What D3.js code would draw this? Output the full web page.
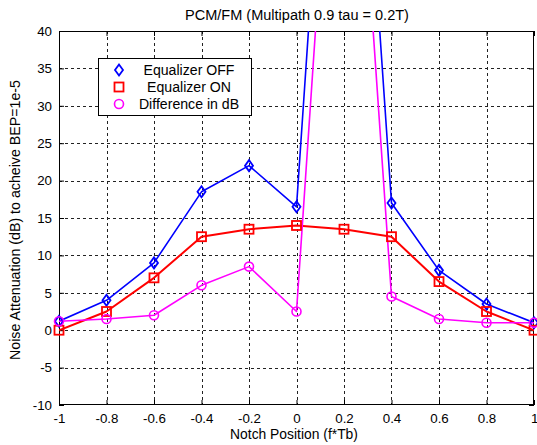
<!DOCTYPE html>
<html><head><meta charset="utf-8">
<script src="https://cdn.jsdelivr.net/npm/d3@7"></script>
<style>body{margin:0;background:#fff}svg{display:block}text{font-family:"Liberation Sans",Arial,sans-serif;fill:#000}</style>
</head><body><svg id="c" width="537" height="445"></svg>
<script>
const xs = [-1, -0.8, -0.6, -0.4, -0.2, 0, 0.2, 0.4, 0.6, 0.8, 1];
const eqOff = [1.2, 4, 9, 18.5, 22, 16.5, 110, 17, 8, 3.5, 1];
const eqOn = [0, 2.5, 7, 12.5, 13.5, 14, 13.5, 12.5, 6.5, 2.5, 0];
const diffDb = [1.2, 1.5, 2, 6, 8.5, 2.5, 96.5, 4.5, 1.5, 1, 1];
const xTicks = [-1, -0.8, -0.6, -0.4, -0.2, 0, 0.2, 0.4, 0.6, 0.8, 1];
const yTicks = [-10, -5, 0, 5, 10, 15, 20, 25, 30, 35, 40];
const seriesNames = ["Equalizer OFF", "Equalizer ON", "Difference in dB"];

const svg = d3.select("#c");
const L = 59, R = 534, T = 31, B = 405;
const x = d3.scaleLinear().domain([-1, 1]).range([L, R]);
const y = d3.scaleLinear().domain([-10, 40]).range([B, T]);

// scale a text's font so it spans the given width
function fit(sel, w) {
  sel.style("font-size", "12px");
  const len = sel.node().getComputedTextLength();
  sel.style("font-size", (12 * w / len).toFixed(2) + "px");
  return 12 * w / len;
}

svg.append("rect").attr("x", 0).attr("y", 0).attr("width", 537).attr("height", 445).attr("fill", "#fff");

// grid
const g = svg.append("g");
g.selectAll(".gx").data(xTicks.slice(1, -1)).enter().append("line")
  .attr("x1", d => Math.round(x(d)) + 0.5).attr("x2", d => Math.round(x(d)) + 0.5)
  .attr("y1", T).attr("y2", B).attr("stroke", "#222").attr("stroke-dasharray", "3,3");
g.selectAll(".gy").data(yTicks.slice(1, -1)).enter().append("line")
  .attr("y1", d => Math.round(y(d)) + 0.5).attr("y2", d => Math.round(y(d)) + 0.5)
  .attr("x1", L).attr("x2", R).attr("stroke", "#222").attr("stroke-dasharray", "3,3");

const title = svg.append("text").attr("x", 297).attr("y", 20).attr("text-anchor", "middle")
  .text("PCM/FM (Multipath 0.9 tau = 0.2T)");
fit(title, 224);

const fmt = d => String(+d.toFixed(1));
const xa = svg.append("g").attr("transform", `translate(0,${B})`)
  .call(d3.axisBottom(x).tickValues(xTicks).tickSize(-5).tickPadding(9).tickFormat(fmt));
const xa2 = svg.append("g").attr("transform", `translate(0,${T})`)
  .call(d3.axisTop(x).tickValues(xTicks).tickSize(-5).tickFormat(""));
const ya = svg.append("g").attr("transform", `translate(${L},0)`)
  .call(d3.axisLeft(y).tickValues(yTicks).tickSize(-5).tickPadding(7).tickFormat(fmt));
const ya2 = svg.append("g").attr("transform", `translate(${R},0)`)
  .call(d3.axisRight(y).tickValues(yTicks).tickSize(-5).tickFormat(""));
// tick label size: "-0.8" spans about 23px in the reference
const probe = xa.selectAll("text").filter(d => d === -0.8);
const TFS = fit(probe, 23).toFixed(2) + "px";
[xa, xa2, ya, ya2].forEach(a => {
  a.select(".domain").remove();
  a.selectAll("line").attr("stroke", "#000");
  a.selectAll("text").style("font-size", TFS).attr("fill", "#000");
});
xa.selectAll("text").filter(d => d === 1).attr("text-anchor", "end").attr("dx", 4);
svg.append("rect").attr("x", L + 0.5).attr("y", T + 0.5).attr("width", R - L - 1).attr("height", B - T - 1)
  .attr("fill", "none").attr("stroke", "#000");

// clip
svg.append("clipPath").attr("id", "clip").append("rect").attr("x", L).attr("y", T).attr("width", R - L).attr("height", B - T);
const plot = svg.append("g").attr("clip-path", "url(#clip)");

const line = d3.line().x(d => x(d[0])).y(d => y(d[1]));
const series = [
  {vals: eqOff, color: "#0000ff", w: 1.6, m: "diamond"},
  {vals: eqOn, color: "#ff0000", w: 2, m: "square"},
  {vals: diffDb, color: "#ff00ff", w: 1.6, m: "circle"}
];
function marker(sel, type, color, cx, cy) {
  if (type === "diamond") sel.append("path").attr("d", `M${cx},${cy-5.5}L${cx+4},${cy}L${cx},${cy+5.5}L${cx-4},${cy}Z`)
    .attr("fill", "none").attr("stroke", color).attr("stroke-width", 1.8);
  else if (type === "square") sel.append("rect").attr("x", cx - 4.5).attr("y", cy - 4.5).attr("width", 9).attr("height", 9)
    .attr("fill", "none").attr("stroke", color).attr("stroke-width", 1.8);
  else sel.append("circle").attr("cx", cx).attr("cy", cy).attr("r", 4.5)
    .attr("fill", "none").attr("stroke", color).attr("stroke-width", 1.6);
}
series.forEach(s => {
  plot.append("path").datum(xs.map((v, i) => [v, s.vals[i]])).attr("d", line)
    .attr("fill", "none").attr("stroke", s.color).attr("stroke-width", s.w).attr("stroke-linejoin", "round");
});
series.forEach(s => {
  xs.forEach((v, i) => {
    if (s.vals[i] <= 40) marker(svg, s.m, s.color, x(v), y(s.vals[i]));
  });
});

// axis labels
const xl = svg.append("text").attr("x", 294).attr("y", 439).attr("text-anchor", "middle")
  .text("Notch Position (f*Tb)");
fit(xl, 128);
const yl = svg.append("text").attr("transform", `translate(20,${220}) rotate(-90)`).attr("text-anchor", "middle")
  .text("Noise Attenuation (dB) to acheive BEP=1e-5");
fit(yl, 280);

// legend
const lg = svg.append("g");
lg.append("rect").attr("x", 98.5).attr("y", 58.5).attr("width", 153).attr("height", 57).attr("fill", "#fff").attr("stroke", "#000");
let LFS = null;
series.forEach((s, i) => {
  const cy = 70 + i * 17;
  marker(lg, s.m, s.color, 119, cy);
  const t = lg.append("text").attr("x", 189).attr("y", cy + 5).attr("text-anchor", "middle").text(seriesNames[i]);
  if (i === 0) LFS = fit(t, 91).toFixed(2) + "px"; else t.style("font-size", LFS);
});
</script></body></html>
